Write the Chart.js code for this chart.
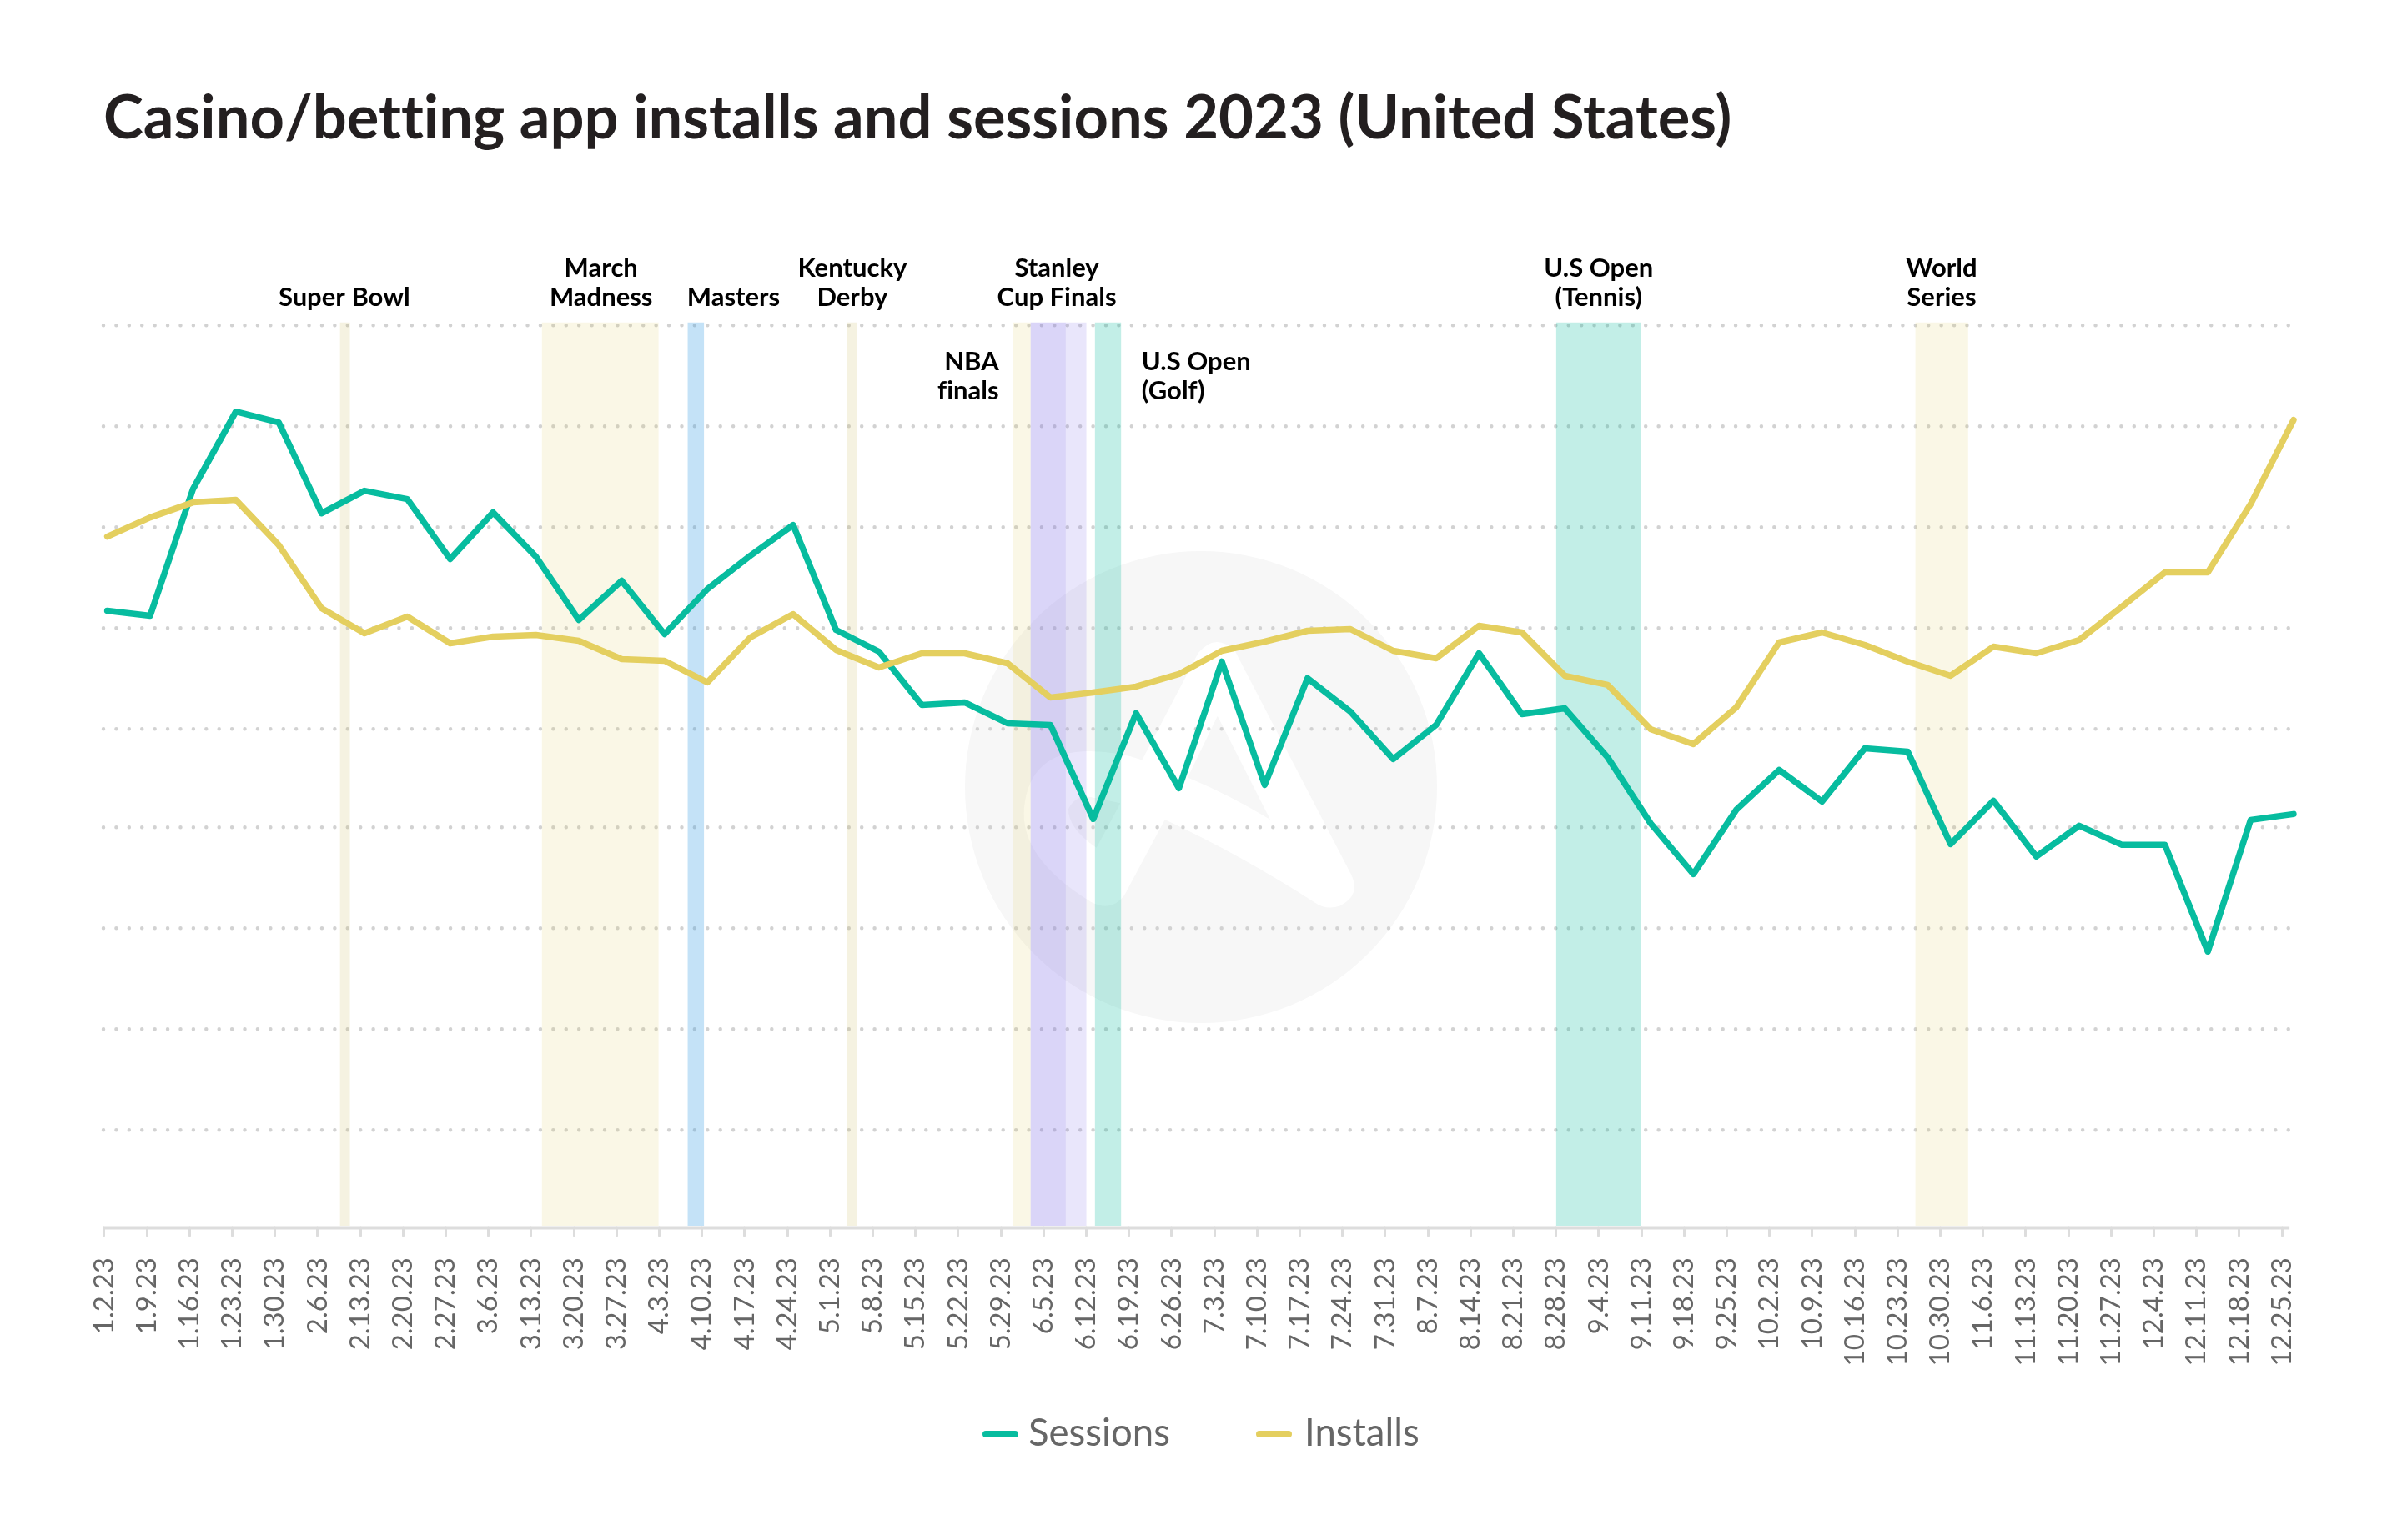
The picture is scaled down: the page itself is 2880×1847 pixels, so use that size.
<!DOCTYPE html>
<html>
<head>
<meta charset="utf-8">
<title>Casino/betting app installs and sessions 2023 (United States)</title>
<script src="https://cdn.jsdelivr.net/npm/chart.js@4"></script>
<style>
    html, body { margin: 0; padding: 0; background: #fff; }
    canvas { display: block; }
</style>
</head>
<body>
<canvas id="chart" width="2880" height="1847"></canvas>
<script>
const weekLabels = ['1.2.23', '1.9.23', '1.16.23', '1.23.23', '1.30.23', '2.6.23', '2.13.23', '2.20.23', '2.27.23',
    '3.6.23', '3.13.23', '3.20.23', '3.27.23', '4.3.23', '4.10.23', '4.17.23', '4.24.23', '5.1.23', '5.8.23',
    '5.15.23', '5.22.23', '5.29.23', '6.5.23', '6.12.23', '6.19.23', '6.26.23', '7.3.23', '7.10.23', '7.17.23',
    '7.24.23', '7.31.23', '8.7.23', '8.14.23', '8.21.23', '8.28.23', '9.4.23', '9.11.23', '9.18.23', '9.25.23',
    '10.2.23', '10.9.23', '10.16.23', '10.23.23', '10.30.23', '11.6.23', '11.13.23', '11.20.23', '11.27.23',
    '12.4.23', '12.11.23', '12.18.23', '12.25.23'];

// The reference has no y axis labels, so values are in relative units read off the picture
const sessions = [741, 735, 887, 980, 967, 858, 885, 875, 803, 859, 806, 730, 777, 713, 767, 807, 844, 718, 692,
    628, 631, 606, 604, 491, 618, 528, 680, 532, 660, 620, 563, 604, 690, 617, 624, 565, 486, 425, 502, 550, 512,
    576, 572, 461, 513, 446, 483, 460, 460, 332, 490, 497];
const installs = [830, 853, 871, 874, 820, 744, 714, 734, 702, 710, 712, 705, 683, 681, 655, 709, 737, 694, 673,
    690, 690, 678, 637, 643, 650, 665, 693, 704, 717, 719, 693, 684, 723, 715, 663, 652, 599, 581, 625, 703, 715,
    700, 680, 663, 698, 690, 706, 746, 787, 787, 869, 970];
const yGridValues = [118, 239.1, 360.4, 481.2, 599.6, 720.2, 841, 962.3, 1083.3];

// Event bands, in week positions
const bandStarts = [5.43, 10.14, 13.54, 17.25, 21.12, 21.54, 22.36, 23.04, 33.80, 42.18];
const bandEnds = [5.66, 12.86, 13.92, 17.49, 21.54, 22.36, 22.84, 23.65, 35.77, 43.41];
const bandColors = ['rgba(200,185,90,.18)', 'rgba(220,200,80,.14)', 'rgba(60,160,230,.30)', 'rgba(200,185,90,.18)',
    'rgba(220,200,80,.14)', 'rgba(120,100,230,.27)', 'rgba(120,100,230,.16)', 'rgba(0,184,153,.24)',
    'rgba(0,184,153,.24)', 'rgba(220,200,80,.14)'];

const eventNames = [['Super Bowl'], ['March', 'Madness'], ['Masters'], ['Kentucky', 'Derby'], ['Stanley', 'Cup Finals'],
    ['U.S Open', '(Tennis)'], ['World', 'Series'], ['NBA', 'finals'], ['U.S Open', '(Golf)']];
const eventAt = [5.53, 11.52, 14.61, 17.38, 22.15, 34.79, 42.79, 20.80, 24.13];
const eventAlign = ['center', 'center', 'center', 'center', 'center', 'center', 'center', 'right', 'left'];
const eventLastBaseline = [367, 367, 367, 367, 367, 367, 367, 479, 479];

// Watermark behind the grid
function drawWatermark(ctx) {
    ctx.save();
    ctx.fillStyle = '#f7f7f7';
    ctx.beginPath();
    ctx.arc(1440, 944, 283, 0, Math.PI * 2);
    ctx.fill();

    ctx.translate(1100, 640);
    ctx.scale(1 / 2.376, 1 / 2.376);
    ctx.fillStyle = '#fff';
    ctx.beginPath();
    ctx.moveTo(800, 340);
    ctx.quadraticCurveTo(850, 280, 905, 335);
    ctx.lineTo(1235, 970);
    ctx.quadraticCurveTo(1265, 1030, 1205, 1060);
    ctx.quadraticCurveTo(1165, 1075, 1130, 1050);
    ctx.quadraticCurveTo(920, 915, 705, 815);
    ctx.lineTo(590, 1030);
    ctx.quadraticCurveTo(555, 1080, 495, 1050);
    ctx.quadraticCurveTo(290, 925, 304, 780);
    ctx.quadraticCurveTo(320, 620, 490, 620);
    ctx.quadraticCurveTo(570, 620, 640, 645);
    ctx.closePath();
    ctx.fill();

    ctx.fillStyle = '#f7f7f7';
    ctx.beginPath();
    ctx.moveTo(855, 520);
    ctx.lineTo(1005, 815);
    ctx.quadraticCurveTo(890, 745, 770, 695);
    ctx.closePath();
    ctx.moveTo(578, 768);
    ctx.lineTo(510, 895);
    ctx.quadraticCurveTo(430, 840, 430, 785);
    ctx.quadraticCurveTo(450, 745, 490, 750);
    ctx.closePath();
    ctx.fill();
    ctx.restore();
}

// Legend drawn by hand: swatch and text gaps differ from what the built-in legend allows
function drawLegend(chart) {
    const ctx = chart.ctx;
    const swatchX = [1178, 1506];
    const textX = [1233, 1564];
    ctx.save();
    ctx.font = '45.5px Lato';
    ctx.textBaseline = 'alphabetic';
    ctx.textAlign = 'left';
    chart.data.datasets.forEach((dataset, i) => {
        ctx.fillStyle = dataset.borderColor;
        ctx.beginPath();
        ctx.roundRect(swatchX[i], 1716, 43, 8, 4);
        ctx.fill();
        ctx.fillStyle = '#666';
        ctx.fillText(dataset.label, textX[i], 1734);
    });
    ctx.restore();
}

const chartDecorations = {
    id: 'chartDecorations',
    beforeDraw(chart) {
        drawWatermark(chart.ctx);
        chart.ctx.lineCap = 'round'; // grid lines inherit this, it turns the dashes into dots
        chart.ctx.letterSpacing = '0.01px'; // keeps Lato from joining the tt in the title
    },
    beforeDatasetsDraw(chart) {
        const { ctx, chartArea, scales } = chart;
        const bottom = scales.y.getPixelForValue(3);
        ctx.save();
        bandStarts.forEach((start, i) => {
            const left = scales.x.getPixelForValue(start);
            const right = scales.x.getPixelForValue(bandEnds[i]);
            ctx.fillStyle = bandColors[i];
            ctx.fillRect(left, chartArea.top, right - left, bottom - chartArea.top);
        });

        // axis line stops just after the last tick
        ctx.strokeStyle = '#ddd';
        ctx.lineWidth = 3;
        ctx.lineCap = 'butt';
        ctx.beginPath();
        ctx.moveTo(scales.xTicks.getPixelForValue(0) - 1.5, chartArea.bottom);
        ctx.lineTo(scales.xTicks.getPixelForValue(weekLabels.length - 1) + 9, chartArea.bottom);
        ctx.stroke();
        ctx.restore();
    },
    afterDatasetsDraw(chart) {
        const { ctx, scales } = chart;
        ctx.save();
        ctx.font = 'bold 31px Lato';
        ctx.fillStyle = '#000';
        ctx.textBaseline = 'alphabetic';
        eventNames.forEach((lines, i) => {
            ctx.textAlign = eventAlign[i];
            const x = scales.x.getPixelForValue(eventAt[i]);
            lines.forEach((line, k) => {
                ctx.fillText(line, x, eventLastBaseline[i] - 35 * (lines.length - 1 - k));
            });
        });
        ctx.restore();
        drawLegend(chart);
    }
};

new Chart(document.getElementById('chart').getContext('2d'), {
    type: 'line',
    data: {
        datasets: [{
            label: 'Sessions',
            data: sessions.map((v, i) => ({ x: i, y: v })),
            borderColor: '#07bc9f',
            backgroundColor: '#07bc9f',
            order: 2
        }, {
            label: 'Installs',
            data: installs.map((v, i) => ({ x: i, y: v })),
            borderColor: '#e4cf5f',
            backgroundColor: '#e4cf5f',
            order: 1
        }]
    },
    options: {
        responsive: false,
        animation: false,
        devicePixelRatio: 1,
        clip: false,
        layout: { padding: { left: 124, right: 128, top: 0, bottom: 174 } },
        elements: {
            line: { borderWidth: 7.5, tension: 0, borderCapStyle: 'round', borderJoinStyle: 'round' },
            point: { radius: 0 }
        },
        scales: {
            // data axis, the printed ticks below sit slightly off the points like in the reference
            x: { type: 'linear', display: false, min: -0.0895, max: 51.04 },
            xTicks: {
                type: 'linear',
                position: 'bottom',
                min: -0.0195,
                max: 51.31,
                afterBuildTicks: (scale) => { scale.ticks = weekLabels.map((_, i) => ({ value: i })); },
                afterFit: (scale) => { scale.height = 200; },
                ticks: {
                    callback: (value) => weekLabels[value],
                    autoSkip: false,
                    minRotation: 90,
                    maxRotation: 90,
                    padding: 26,
                    color: '#666',
                    font: { family: 'Lato', size: 33 }
                },
                grid: { drawOnChartArea: false, tickLength: 9, color: '#ddd', lineWidth: 3 },
                border: { display: false }
            },
            y: {
                min: 0,
                max: 1087,
                afterBuildTicks: (scale) => { scale.ticks = yGridValues.map(v => ({ value: v })); },
                afterFit: (scale) => { scale.width = 0; },
                ticks: { display: false },
                grid: { color: '#d2d2d2', lineWidth: 4.5, drawTicks: false },
                border: { display: false, dash: [0.01, 15.4] }
            }
        },
        plugins: {
            title: {
                display: true,
                text: 'Casino/betting app installs and sessions 2023 (United States)',
                align: 'start',
                color: '#231f20',
                font: { family: 'Lato', size: 72.3, weight: 'bold', lineHeight: 1.2 },
                padding: { top: 99, bottom: 201 }
            },
            legend: { display: false },
            tooltip: { enabled: false }
        }
    },
    plugins: [chartDecorations]
});
</script>
</body>
</html>
